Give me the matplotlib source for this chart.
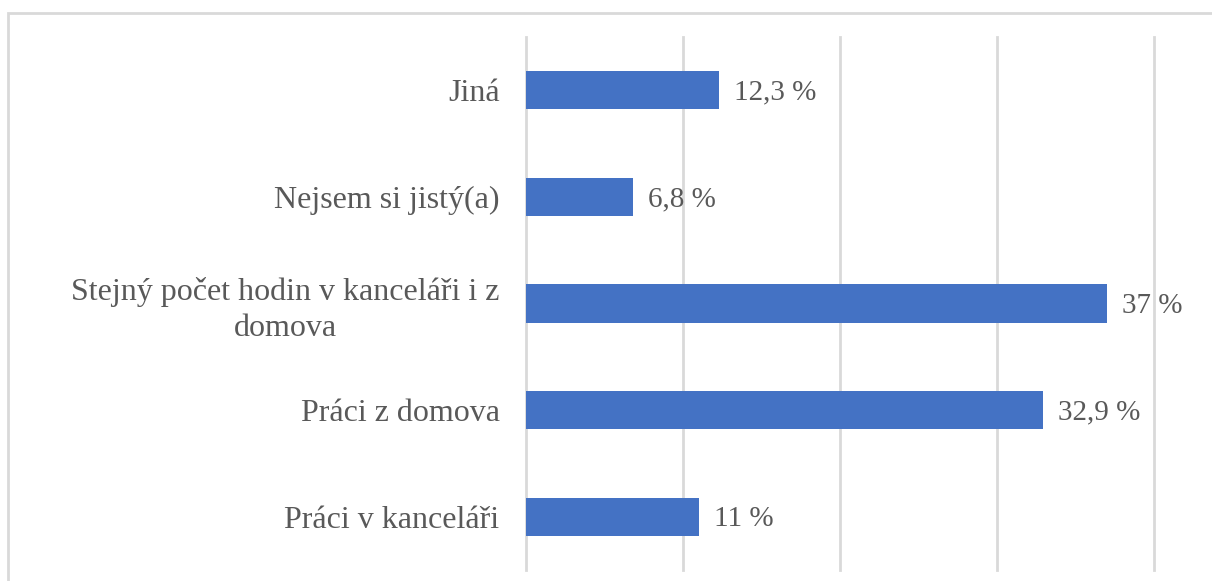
import matplotlib
matplotlib.use('Agg')
from matplotlib import pyplot as plt
from matplotlib import patches

# Data (bottom to top order as drawn)
categories = ['Práci v kanceláři', 'Práci z domova',
              'Stejný počet hodin v kanceláři i z\ndomova',
              'Nejsem si jistý(a)', 'Jiná']
values = [11, 32.9, 37, 6.8, 12.3]
value_labels = ['11 %', '32,9 %', '37 %', '6,8 %', '12,3 %']

TEXT_COLOR = '#595959'
BAR_COLOR = '#4472C4'
GRID_COLOR = '#d9d9d9'

plt.rcParams['font.family'] = ['Liberation Serif', 'DejaVu Serif']

fig = plt.figure(figsize=(12.12, 5.81), dpi=100)

# outer chart frame (cropped at right and bottom)
fig.add_artist(patches.Rectangle((8 / 1212, -0.1), 1.2, 1 - 13 / 581 + 0.1,
                                 transform=fig.transFigure, fill=False,
                                 edgecolor=GRID_COLOR, linewidth=2))

ax = fig.add_axes([526 / 1212, 1 - 570 / 581, (1154 - 526) / 1212, (570 - 37) / 581])

y = range(len(categories))
ax.barh(y, values, height=0.36, color=BAR_COLOR, zorder=3)

ax.set_xlim(0, 40)
ax.set_ylim(-0.5, len(categories) - 0.5)
ax.set_xticks([0, 10, 20, 30, 40])
ax.set_xticklabels([])
ax.tick_params(axis='x', length=0)
ax.tick_params(axis='y', length=0, pad=19, labelsize=23, labelcolor=TEXT_COLOR)
ax.set_yticks(list(y))
ax.set_yticklabels(categories)
for lbl in ax.get_yticklabels():
    lbl.set_multialignment('center')
    lbl.set_linespacing(1.3)

ax.grid(axis='x', color=GRID_COLOR, linewidth=2, zorder=0)
for gl in ax.get_xgridlines():
    gl.set_clip_on(False)
for s in ax.spines.values():
    s.set_visible(False)

for i, (v, t) in enumerate(zip(values, value_labels)):
    ax.annotate(t, xy=(v, i), xytext=(11, -1.5), textcoords='offset points',
                va='center', ha='left', fontsize=21, color=TEXT_COLOR)

fig.savefig('out.png', dpi=100)
